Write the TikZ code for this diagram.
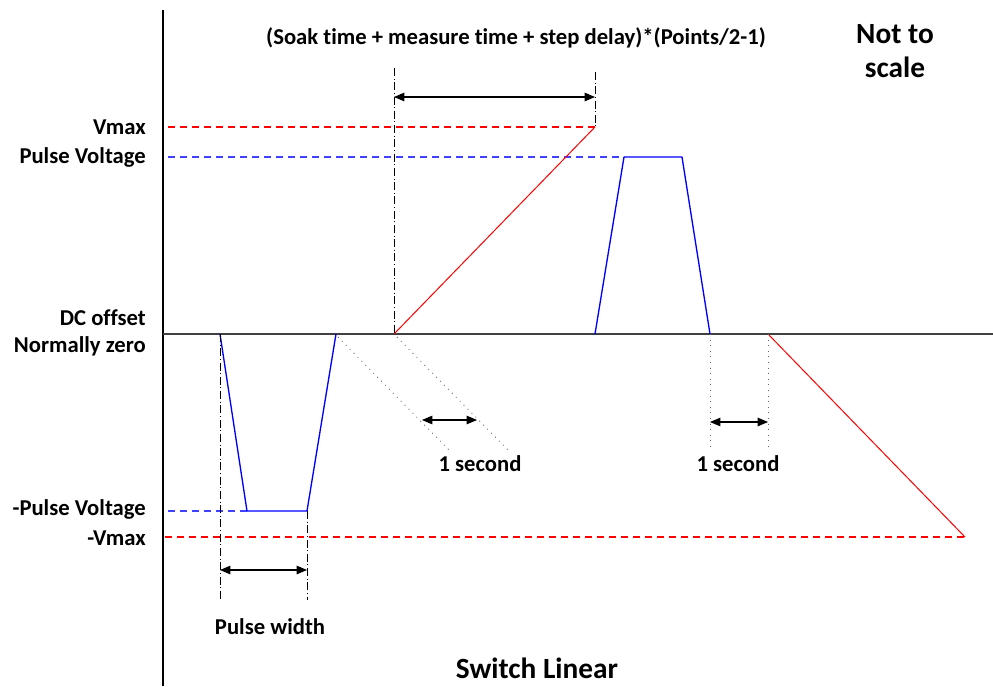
\documentclass[tikz,border=0pt]{standalone}
\usepackage{fontspec}
\setmainfont[Ligatures=NoCommon]{Carlito}
\usetikzlibrary{positioning}
\usetikzlibrary{arrows}
\tikzset{
        lbl/.style={inner sep=0pt, font=\bfseries\fontsize{17}{20}\selectfont},
        % Big titles
        lbl_big/.style={lbl, align=center, font=\bfseries\fontsize{22}{25}\selectfont},
        % Axes
        axis_line/.style={black!75, line width=1.1pt},
        % Sweep ramps
        ramp_red/.style={red, line width=0.75pt},
        % Pulses
        pulse_blue/.style={blue, line width=1pt, line join=round},
        % Level guides
        level_red/.style={draw=red, line width=0.9pt, dash pattern=on 5pt off 4pt},
        level_blue/.style={draw=blue!75, line width=1pt, dash pattern=on 5pt off 4pt},
        % Dimension guides
        guide_dashdot/.style={black, line width=0.5pt, dash pattern=on 6pt off 2pt on 0.7pt off 2pt},
        guide_dotted/.style={black!60, line width=0.6pt, dash pattern=on 0.7pt off 3.5pt},
        dim_arrow/.style={<->, >=triangle 45, black, line width=0.8pt}
}
\begin{document}
\begin{tikzpicture}[x=0.75pt, y=-0.75pt]
            \useasboundingbox (0,0) rectangle (993,686);
            % axes
            \coordinate (ax_top) at (163,10);
            \coordinate (ax_bot) at (163,686);
            \coordinate (zero_l) at (163,334);
            \coordinate (zero_r) at (993,334);
            \draw[black, line width=0.8pt] (ax_top) -- (ax_bot);
            \draw[axis_line] (zero_l) -- (zero_r);

            % levels
            \coordinate (vmax_l) at (168,127);
            \coordinate (vmax_r) at (595,127);
            \coordinate (pv_l) at (168,157);
            \coordinate (pv_a) at (624,157);
            \coordinate (pv_b) at (682,157);
            \coordinate (nvmax_l) at (165,537);
            \coordinate (nvmax_r) at (965,537);
            \coordinate (npv_l) at (168,511);
            \coordinate (npv_a) at (247,511);
            \coordinate (npv_b) at (307,511);
            \draw[level_red] (vmax_l) -- (vmax_r);
            \draw[level_blue] (pv_l) -- (pv_a);
            \draw[level_red] (nvmax_l) -- (nvmax_r);
            \draw[level_blue] (npv_l) -- (npv_a);

            % waveform
            \coordinate (npulse_up) at (220,334);
            \coordinate (npulse_dn) at (336,334);
            \coordinate (ramp_start) at (394,334);
            \coordinate (pulse_up) at (595,334);
            \coordinate (pulse_dn) at (710,334);
            \coordinate (ramp2_start) at (768,334);
            \draw[pulse_blue] (npulse_up) -- (npv_a) -- (npv_b) -- (npulse_dn);
            \draw[ramp_red] (ramp_start) -- (vmax_r);
            \draw[pulse_blue] (pulse_up) -- (pv_a) -- (pv_b) -- (pulse_dn);
            \draw[ramp_red] (ramp2_start) -- (nvmax_r);

            % step time dimension
            \coordinate (st_a) at (394,68);
            \coordinate (st_b) at (595,72);
            \draw[guide_dashdot] (st_a) -- (ramp_start);
            \draw[guide_dashdot] (st_b) -- (vmax_r);
            \draw[dim_arrow] (394,97) -- (595,97);
            \node[lbl] (step_lbl) at (516,38) {(Soak time + measure time + step delay)*(Points/2-1)};

            % pulse width dimension
            \coordinate (pw_a) at (220,600);
            \coordinate (pw_b) at (307,600);
            \draw[guide_dashdot] (npulse_up) -- (pw_a);
            \draw[guide_dashdot] (npv_b) -- (pw_b);
            \draw[dim_arrow] (220,570) -- (307,570);
            \node[lbl] (pw_lbl) at (270,627) {Pulse width};

            % 1 second, slanted
            \coordinate (d1_a) at (449,450);
            \coordinate (d1_b) at (508,450);
            \draw[guide_dotted] (338,337) -- (d1_a);
            \draw[guide_dotted] (397,337) -- (d1_b);
            \draw[dim_arrow] (422,420) -- (477,420);
            \node[lbl] (sec1_lbl) at (480,464) {1 second};

            % 1 second, straight
            \coordinate (d2_a) at (710,450);
            \coordinate (d2_b) at (768,450);
            \draw[guide_dotted] (pulse_dn) -- (d2_a);
            \draw[guide_dotted] (ramp2_start) -- (d2_b);
            \draw[dim_arrow] (710,422) -- (768,422);
            \node[lbl] (sec2_lbl) at (738,464) {1 second};

            % level names
            \node[lbl, anchor=east] (vmax_lbl) at (146,127) {Vmax};
            \node[lbl, anchor=east] (pv_lbl) at (146,157) {Pulse Voltage};
            \node[lbl, anchor=east] (dc_lbl) at (146,318) {DC offset};
            \node[lbl, anchor=east] (zero_lbl) at (146,346) {Normally zero};
            \node[lbl, anchor=east] (npv_lbl) at (146,509) {-Pulse Voltage};
            \node[lbl, anchor=east] (nvmax_lbl) at (146,538) {-Vmax};

            \node[lbl_big] (scale_lbl) at (895,51) {Not to\\scale};
            \node[lbl_big] (title_lbl) at (537,668) {Switch Linear};
\end{tikzpicture}
\end{document}
